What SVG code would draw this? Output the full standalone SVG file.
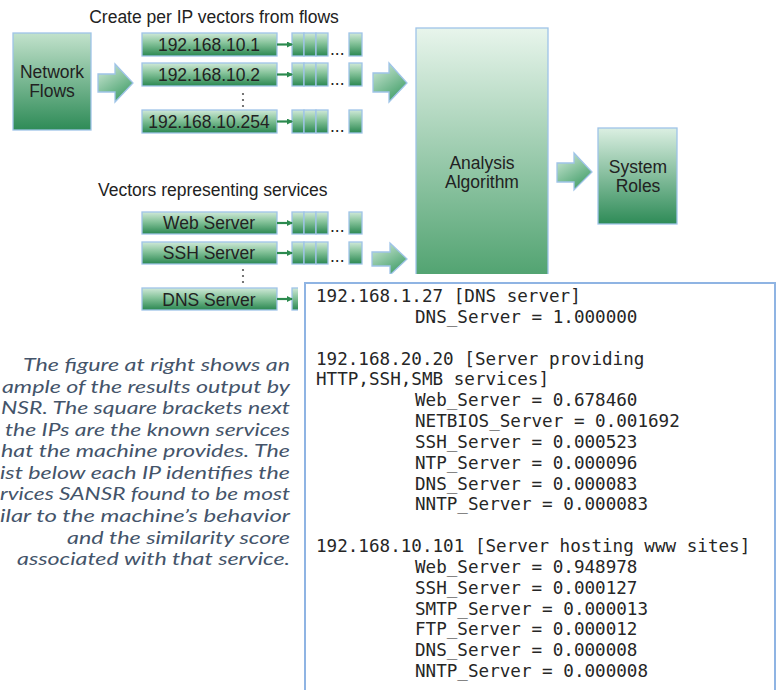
<svg xmlns="http://www.w3.org/2000/svg" width="779" height="690" viewBox="0 0 779 690">
<style>
.lbl{font-family:"Liberation Sans",Arial,sans-serif;font-size:17.5px;fill:#222}
.mid{text-anchor:middle}
.bd{stroke:#9fc4e8;stroke-width:1.3}
.bar{fill:url(#gBar)}
.blk{fill:url(#gArrow);stroke:#9fc4e8;stroke-width:1.3}
.sm{stroke:#2b8a4e;stroke-width:2.2;fill:none;marker-end:url(#mh)}
.dot{fill:#555}
.mono{font-family:"DejaVu Sans Mono","Liberation Mono",monospace;font-size:17.6px;fill:#262626}
.it{font-family:Lato,"Liberation Sans",sans-serif;font-style:italic;font-size:18px;fill:#44546a;text-anchor:end}
</style>
<defs>
<linearGradient id="gBar" x1="0" y1="0" x2="0" y2="1">
<stop offset="0" stop-color="#d0e9d8"/><stop offset="0.45" stop-color="#84c299"/><stop offset="1" stop-color="#2a8751"/>
</linearGradient>
<linearGradient id="gNF" x1="0" y1="0" x2="0" y2="1">
<stop offset="0" stop-color="#c2e2cc"/><stop offset="1" stop-color="#2e8b57"/>
</linearGradient>
<linearGradient id="gAA" x1="0" y1="0" x2="0" y2="1">
<stop offset="0" stop-color="#e8f5ec"/><stop offset="1" stop-color="#4a9f6b"/>
</linearGradient>
<linearGradient id="gSR" x1="0" y1="0" x2="0" y2="1">
<stop offset="0" stop-color="#dbefe2"/><stop offset="1" stop-color="#2e8b57"/>
</linearGradient>
<linearGradient id="gArrow" x1="0" y1="0" x2="0.6" y2="1">
<stop offset="0" stop-color="#d6ecdd"/><stop offset="1" stop-color="#45a06b"/>
</linearGradient>
<marker id="mh" markerWidth="6" markerHeight="6" refX="5" refY="3" orient="auto" markerUnits="userSpaceOnUse" viewBox="0 0 6 6">
<path d="M0,0 L6,3 L0,6 z" fill="#2b8a4e"/>
</marker>
</defs>
<rect width="779" height="690" fill="#fff"/>

<text class="lbl mid" x="214" y="23">Create per IP vectors from flows</text>
<text class="lbl" x="98" y="196">Vectors representing services</text>

<g id="network-flows">
<rect x="13" y="33" width="78" height="97" fill="url(#gNF)" class="bd"/>
<text class="lbl mid" x="52" y="78">Network</text>
<text class="lbl mid" x="52" y="97">Flows</text>
</g>

<g id="ip1">
<rect x="142" y="33" width="135" height="23" class="bar bd"/>
<text class="lbl mid" x="209" y="51">192.168.10.1</text>
<rect x="292" y="33" width="12" height="23" class="bar bd"/><rect x="304" y="33" width="12" height="23" class="bar bd"/><rect x="316" y="33" width="12" height="23" class="bar bd"/>
<text class="lbl" x="330" y="55">...</text>
<rect x="349" y="33" width="13" height="23" class="bar bd"/>
</g>
<g id="ip2">
<rect x="142" y="63" width="135" height="23" class="bar bd"/>
<text class="lbl mid" x="209" y="81">192.168.10.2</text>
<rect x="292" y="63" width="12" height="23" class="bar bd"/><rect x="304" y="63" width="12" height="23" class="bar bd"/><rect x="316" y="63" width="12" height="23" class="bar bd"/>
<text class="lbl" x="330" y="85">...</text>
<rect x="349" y="63" width="13" height="23" class="bar bd"/>
</g>
<g id="ip-dots"><circle class="dot" cx="243" cy="94" r="1.1"/><circle class="dot" cx="243" cy="100" r="1.1"/><circle class="dot" cx="243" cy="106" r="1.1"/></g>
<g id="ip254">
<rect x="142" y="110" width="135" height="23" class="bar bd"/>
<text class="lbl mid" x="209" y="128">192.168.10.254</text>
<rect x="292" y="110" width="12" height="23" class="bar bd"/><rect x="304" y="110" width="12" height="23" class="bar bd"/><rect x="316" y="110" width="12" height="23" class="bar bd"/>
<text class="lbl" x="330" y="132">...</text>
<rect x="349" y="110" width="13" height="23" class="bar bd"/>
</g>

<g id="web-server">
<rect x="142" y="212" width="135" height="22" class="bar bd"/>
<text class="lbl mid" x="209" y="229">Web Server</text>
<rect x="292" y="212" width="12" height="22" class="bar bd"/><rect x="304" y="212" width="12" height="22" class="bar bd"/><rect x="316" y="212" width="12" height="22" class="bar bd"/>
<text class="lbl" x="330" y="232">...</text>
<rect x="349" y="212" width="13" height="22" class="bar bd"/>
</g>
<g id="ssh-server">
<rect x="142" y="242" width="135" height="22" class="bar bd"/>
<text class="lbl mid" x="209" y="259">SSH Server</text>
<rect x="292" y="242" width="12" height="22" class="bar bd"/><rect x="304" y="242" width="12" height="22" class="bar bd"/><rect x="316" y="242" width="12" height="22" class="bar bd"/>
<text class="lbl" x="330" y="262">...</text>
<rect x="349" y="242" width="13" height="22" class="bar bd"/>
</g>
<g id="svc-dots"><circle class="dot" cx="243" cy="270" r="1.1"/><circle class="dot" cx="243" cy="276" r="1.1"/><circle class="dot" cx="243" cy="282" r="1.1"/></g>
<g id="dns-server">
<rect x="142" y="288" width="135" height="22" class="bar bd"/>
<text class="lbl mid" x="209" y="306">DNS Server</text>
<rect x="292" y="288" width="12" height="22" class="bar bd"/>
</g>

<g id="analysis-algorithm">
<rect x="416" y="28" width="132" height="260" fill="url(#gAA)" class="bd"/>
<text class="lbl mid" x="482" y="168.5">Analysis</text>
<text class="lbl mid" x="482" y="188">Algorithm</text>
</g>

<g id="system-roles">
<rect x="598" y="128" width="79" height="96" fill="url(#gSR)" class="bd"/>
<text class="lbl mid" x="638" y="172.5">System</text>
<text class="lbl mid" x="638" y="191.5">Roles</text>
</g>

<g id="connectors">
<polygon class="blk" points="98,74 115,74 115,64 133,83 115,102 115,92 98,92"/>
<polygon class="blk" points="373,73 389,73 389,63 407,83 389,102 389,92 373,92"/>
<polygon class="blk" points="557,163 574,163 574,153 592,172 574,190 574,182 557,182"/>
<polygon class="blk" points="372,252 390,252 390,243 407,259 390,275 390,266 372,266"/>
<line class="sm" x1="277" y1="44.5" x2="292" y2="44.5"/>
<line class="sm" x1="277" y1="74.5" x2="292" y2="74.5"/>
<line class="sm" x1="277" y1="121.5" x2="292" y2="121.5"/>
<line class="sm" x1="277" y1="223" x2="292" y2="223"/>
<line class="sm" x1="277" y1="253" x2="292" y2="253"/>
<line class="sm" x1="277" y1="299" x2="292" y2="299"/>
</g>

<g id="results">
<rect x="298" y="274" width="481" height="416" fill="#fff"/>
<rect x="305" y="283" width="470" height="430" fill="#fff" stroke="#8fb4e3" stroke-width="2"/>
<text class="mono" x="316" y="302">192.168.1.27 [DNS server]</text>
<text class="mono" x="415" y="323">DNS_Server = 1.000000</text>
<text class="mono" x="316" y="364.5">192.168.20.20 [Server providing</text>
<text class="mono" x="316" y="385.3">HTTP,SSH,SMB services]</text>
<text class="mono" x="415" y="406.2">Web_Server = 0.678460</text>
<text class="mono" x="415" y="427">NETBIOS_Server = 0.001692</text>
<text class="mono" x="415" y="447.8">SSH_Server = 0.000523</text>
<text class="mono" x="415" y="468.6">NTP_Server = 0.000096</text>
<text class="mono" x="415" y="489.5">DNS_Server = 0.000083</text>
<text class="mono" x="415" y="510.3">NNTP_Server = 0.000083</text>
<text class="mono" x="316" y="552">192.168.10.101 [Server hosting www sites]</text>
<text class="mono" x="415" y="572.8">Web_Server = 0.948978</text>
<text class="mono" x="415" y="593.6">SSH_Server = 0.000127</text>
<text class="mono" x="415" y="614.5">SMTP_Server = 0.000013</text>
<text class="mono" x="415" y="635.3">FTP_Server = 0.000012</text>
<text class="mono" x="415" y="656.1">DNS_Server = 0.000008</text>
<text class="mono" x="415" y="677">NNTP_Server = 0.000008</text>
</g>

<g id="caption">
<text class="it" x="290" y="371" textLength="267" lengthAdjust="spacingAndGlyphs">The figure at right shows an</text>
<text class="it" x="290" y="392.6" textLength="288" lengthAdjust="spacingAndGlyphs">ample of the results output by</text>
<text class="it" x="290" y="414.1" textLength="289" lengthAdjust="spacingAndGlyphs">NSR. The square brackets next</text>
<text class="it" x="290" y="435.7" textLength="285" lengthAdjust="spacingAndGlyphs">the IPs are the known services</text>
<text class="it" x="290" y="457.2" textLength="289" lengthAdjust="spacingAndGlyphs">hat the machine provides. The</text>
<text class="it" x="290" y="478.8" textLength="290" lengthAdjust="spacingAndGlyphs">ist below each IP identifies the</text>
<text class="it" x="290" y="500.4" textLength="290" lengthAdjust="spacingAndGlyphs">rvices SANSR found to be most</text>
<text class="it" x="290" y="521.9" textLength="290" lengthAdjust="spacingAndGlyphs">ilar to the machine’s behavior</text>
<text class="it" x="290" y="543.5" textLength="223" lengthAdjust="spacingAndGlyphs">and the similarity score</text>
<text class="it" x="290" y="565" textLength="273" lengthAdjust="spacingAndGlyphs">associated with that service.</text>
</g>
</svg>
